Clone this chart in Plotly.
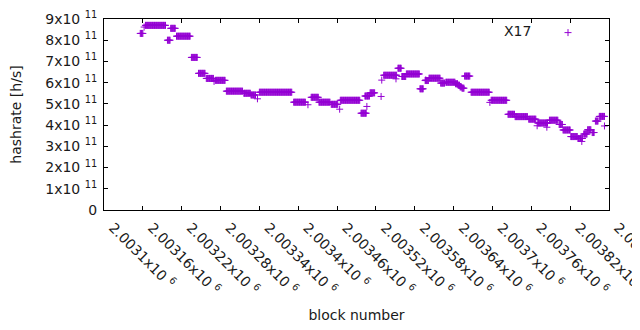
import plotly.graph_objects as go

# Runs of consecutive blocks sharing the same hashrate estimate (h/s)
run_start = [2003156, 2003164, 2003198, 2003203, 2003212, 2003235, 2003246, 2003258,
             2003272, 2003289, 2003316, 2003327, 2003340, 2003393, 2003420, 2003432,
             2003451, 2003465, 2003497, 2003503, 2003511, 2003532, 2003554, 2003560,
             2003567, 2003588, 2003596, 2003602, 2003620, 2003628, 2003643, 2003647,
             2003650, 2003653, 2003657, 2003667, 2003698, 2003724, 2003735, 2003756,
             2003770, 2003788, 2003803, 2003809, 2003821, 2003832, 2003841, 2003847,
             2003854, 2003859, 2003865]
run_end = [2003160, 2003195, 2003202, 2003210, 2003233, 2003244, 2003256, 2003269,
           2003287, 2003314, 2003326, 2003334, 2003390, 2003411, 2003431, 2003449,
           2003461, 2003495, 2003505, 2003510, 2003518, 2003552, 2003559, 2003566,
           2003587, 2003593, 2003601, 2003619, 2003626, 2003642, 2003646, 2003649,
           2003652, 2003656, 2003665, 2003695, 2003722, 2003734, 2003754, 2003767,
           2003785, 2003801, 2003808, 2003820, 2003831, 2003839, 2003846, 2003852,
           2003857, 2003863, 2003873]
run_value = [8.32e11, 8.70e11, 8.00e11, 8.56e11, 8.19e11, 7.19e11, 6.44e11, 6.20e11,
             6.11e11, 5.60e11, 5.50e11, 5.42e11, 5.55e11, 5.08e11, 5.31e11, 5.08e11,
             4.98e11, 5.17e11, 4.56e11, 5.37e11, 5.52e11, 6.35e11, 6.68e11, 6.29e11,
             6.41e11, 5.71e11, 6.10e11, 6.21e11, 5.98e11, 6.02e11, 5.95e11, 5.88e11,
             5.80e11, 5.74e11, 6.31e11, 5.55e11, 5.17e11, 4.51e11, 4.40e11, 4.28e11,
             4.10e11, 4.23e11, 4.03e11, 3.77e11, 3.46e11, 3.37e11, 3.58e11, 3.78e11,
             3.65e11, 4.19e11, 4.41e11]

# Isolated single-block values
point_block = [2003162, 2003270, 2003337, 2003415, 2003464, 2003506, 2003528, 2003529,
               2003551, 2003597, 2003696, 2003769, 2003784, 2003838, 2003873]
point_value = [8.62e11, 6.06e11, 5.24e11, 4.96e11, 4.75e11, 4.88e11, 5.35e11, 6.12e11,
               6.18e11, 6.13e11, 5.07e11, 3.97e11, 3.90e11, 3.23e11, 3.96e11]

x_tick_vals = [2003100, 2003160, 2003220, 2003280, 2003340, 2003400, 2003460,
               2003520, 2003580, 2003640, 2003700, 2003760, 2003820, 2003880]
x_tick_text = ["2.0031x10 <sup>6</sup>", "2.00316x10 <sup>6</sup>", "2.00322x10 <sup>6</sup>",
               "2.00328x10 <sup>6</sup>", "2.00334x10 <sup>6</sup>", "2.0034x10 <sup>6</sup>",
               "2.00346x10 <sup>6</sup>", "2.00352x10 <sup>6</sup>", "2.00358x10 <sup>6</sup>",
               "2.00364x10 <sup>6</sup>", "2.0037x10 <sup>6</sup>", "2.00376x10 <sup>6</sup>",
               "2.00382x10 <sup>6</sup>", "2.00388x10 <sup>6</sup>"]
y_tick_vals = [0, 1e11, 2e11, 3e11, 4e11, 5e11, 6e11, 7e11, 8e11, 9e11]
y_tick_text = ["0", "1x10 <sup>11</sup>", "2x10 <sup>11</sup>", "3x10 <sup>11</sup>",
               "4x10 <sup>11</sup>", "5x10 <sup>11</sup>", "6x10 <sup>11</sup>",
               "7x10 <sup>11</sup>", "8x10 <sup>11</sup>", "9x10 <sup>11</sup>"]

series_name = "X17"
color = "#9400D3"
font_family = "DejaVu Sans"
text_color = "#1a1a1a"

xs, ys = [], []
for s, e, v in zip(run_start, run_end, run_value):
    for b in range(s, e + 1):
        xs.append(b)
        ys.append(v)
for b, v in zip(point_block, point_value):
    xs.append(b)
    ys.append(v)

fig = go.Figure()
fig.add_trace(go.Scatter(
    x=xs, y=ys, mode="markers", name=" ", showlegend=True,
    marker=dict(symbol="cross-thin", size=5, color=color,
                line=dict(color=color, width=1)),
    hoverinfo="skip",
))

axis_common = dict(showline=True, linecolor="black", linewidth=1, mirror="allticks",
                   ticks="inside", ticklen=4, tickcolor="black", tickwidth=1,
                   showgrid=False, zeroline=False, automargin=False,
                   ticklabeloverflow="allow",
                   tickfont=dict(family=font_family, size=14, color=text_color))

fig.update_xaxes(range=[2003100, 2003880], tickmode="array", tickvals=x_tick_vals,
                 ticktext=x_tick_text, tickangle=45,
                 ticklabelshift=9, ticklabelstandoff=3,
                 title=dict(text="block number", standoff=13,
                            font=dict(family=font_family, size=14, color=text_color)),
                 **axis_common)
fig.update_yaxes(range=[0, 9e11], tickmode="array", tickvals=y_tick_vals,
                 ticktext=y_tick_text, ticklabelstandoff=3,
                 title=dict(text="hashrate [h/s]", standoff=22,
                            font=dict(family=font_family, size=14, color=text_color)),
                 **axis_common)

fig.add_annotation(text=series_name, xref="paper", yref="paper",
                   x=(533 - 104.3) / 505, y=(210.5 - 31) / 191.5,
                   xanchor="right", yanchor="middle", showarrow=False,
                   font=dict(family=font_family, size=14, color=text_color))

# the page body adds an 8px offset; size the figure so the plot area lands right
fig.update_layout(
    width=632, height=322,
    margin=dict(l=96, r=31, t=11, b=120, autoexpand=False),
    paper_bgcolor="white", plot_bgcolor="white",
    font=dict(family=font_family, size=14, color=text_color),
    legend=dict(xref="container", yref="container", x=540 / 632, y=1 - 9 / 322,
                xanchor="left", yanchor="top", bgcolor="rgba(0,0,0,0)",
                font=dict(family=font_family, size=14)),
)

fig.write_html("out.html")
